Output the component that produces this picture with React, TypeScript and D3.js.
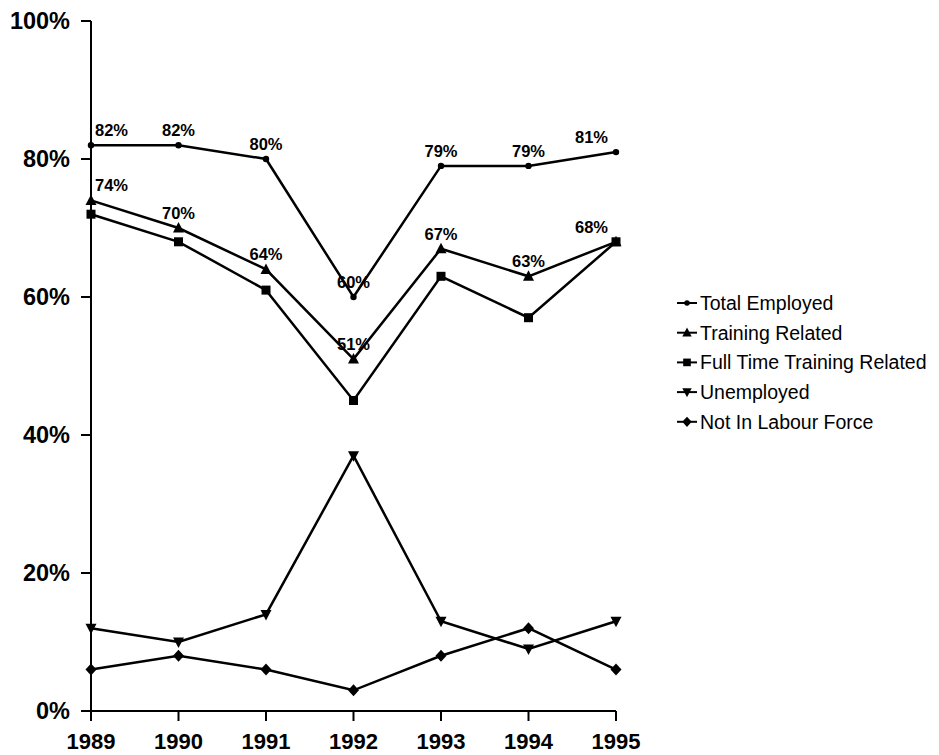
import React from "react";
import * as d3 from "d3";

const years = [1989, 1990, 1991, 1992, 1993, 1994, 1995];
const totalEmployed = [82, 82, 80, 60, 79, 79, 81];
const trainingRelated = [74, 70, 64, 51, 67, 63, 68];
const fullTimeTrainingRelated = [72, 68, 61, 45, 63, 57, 68];
const unemployed = [12, 10, 14, 37, 13, 9, 13];
const notInLabourForce = [6, 8, 6, 3, 8, 12, 6];
const yTicks = [0, 20, 40, 60, 80, 100];

const seriesNames = [
  "Total Employed",
  "Training Related",
  "Full Time Training Related",
  "Unemployed",
  "Not In Labour Force",
];
const seriesValues = [totalEmployed, trainingRelated, fullTimeTrainingRelated, unemployed, notInLabourForce];
const seriesMarkers = ["circle", "triangle", "square", "triangleDown", "diamond"];
const labelledSeries = [true, true, false, false, false];

const W = 939;
const H = 755;
const left = 91;
const right = 616;
const top = 21;
const bottom = 711;
const FONT = "'Liberation Sans', Arial, Helvetica, sans-serif";

function Marker({ type, x, y, size }: { type: string; x: number; y: number; size?: number }) {
  const s = size ?? 1;
  if (type === "circle") return <circle cx={x} cy={y} r={3.2 * s} fill="#000" />;
  if (type === "square")
    return <rect x={x - 4.5 * s} y={y - 4.5 * s} width={9 * s} height={9 * s} fill="#000" />;
  if (type === "triangle")
    return (
      <path
        d={`M${x},${y - 6 * s} L${x + 5.5 * s},${y + 4.5 * s} L${x - 5.5 * s},${y + 4.5 * s} Z`}
        fill="#000"
      />
    );
  if (type === "triangleDown")
    return (
      <path
        d={`M${x},${y + 6 * s} L${x + 5.5 * s},${y - 4.5 * s} L${x - 5.5 * s},${y - 4.5 * s} Z`}
        fill="#000"
      />
    );
  return (
    <path
      d={`M${x},${y - 6 * s} L${x + 5.5 * s},${y} L${x},${y + 6 * s} L${x - 5.5 * s},${y} Z`}
      fill="#000"
    />
  );
}

export default function App() {
  const x = d3.scaleLinear().domain([years[0], years[years.length - 1]]).range([left, right]);
  const y = d3.scaleLinear().domain([0, 100]).range([bottom, top]);
  const line = d3
    .line<number>()
    .x((_, i) => x(years[i]))
    .y((d) => y(d));

  const legendX = 677;
  const legendY0 = 303;
  const legendStep = 29.7;

  return (
    <svg
      width={W}
      height={H}
      style={{ position: "absolute", left: 0, top: 0, background: "#fff" }}
      fontFamily={FONT}
    >
      <rect width={W} height={H} fill="#fff" />
      {/* axes */}
      <line x1={left} x2={left} y1={top} y2={bottom} stroke="#000" strokeWidth={2} />
      <line x1={left} x2={right} y1={bottom} y2={bottom} stroke="#000" strokeWidth={2} />
      {yTicks.map((t) => (
        <g key={t}>
          <line x1={left - 10} x2={left} y1={y(t)} y2={y(t)} stroke="#000" strokeWidth={2} />
          <text
            x={left - 21}
            y={y(t)}
            textAnchor="end"
            dominantBaseline="central"
            fontSize={23.5}
            fontWeight="bold"
          >
            {t}%
          </text>
        </g>
      ))}
      {years.map((yr) => (
        <g key={yr}>
          <line x1={x(yr)} x2={x(yr)} y1={bottom} y2={bottom + 10} stroke="#000" strokeWidth={2} />
          <text x={x(yr)} y={bottom + 30} textAnchor="middle" dominantBaseline="central" fontSize={22} fontWeight="bold">
            {yr}
          </text>
        </g>
      ))}
      {/* series */}
      {seriesValues.map((vals, si) => (
        <g key={si}>
          <path d={line(vals) ?? ""} fill="none" stroke="#000" strokeWidth={2.5} />
          {vals.map((v, i) => (
            <Marker key={i} type={seriesMarkers[si]} x={x(years[i])} y={y(v)} />
          ))}
          {labelledSeries[si] &&
            vals.map((v, i) => {
              const first = i === 0;
              const last = i === vals.length - 1;
              return (
                <text
                  key={"l" + i}
                  x={x(years[i]) + (first ? 4 : last ? -8 : 0)}
                  y={y(v) - 9}
                  textAnchor={first ? "start" : last ? "end" : "middle"}
                  fontSize={16.5}
                  fontWeight="bold"
                >
                  {v}%
                </text>
              );
            })}
        </g>
      ))}
      {/* legend */}
      {seriesNames.map((name, i) => {
        const ly = legendY0 + i * legendStep;
        return (
          <g key={name}>
            <line x1={legendX} x2={legendX + 20} y1={ly} y2={ly} stroke="#000" strokeWidth={2} />
            <Marker type={seriesMarkers[i]} x={legendX + 10} y={ly} size={0.85} />
            <text x={legendX + 23} y={ly} dominantBaseline="central" fontSize={19.5} fontWeight="500">
              {name}
            </text>
          </g>
        );
      })}
    </svg>
  );
}
